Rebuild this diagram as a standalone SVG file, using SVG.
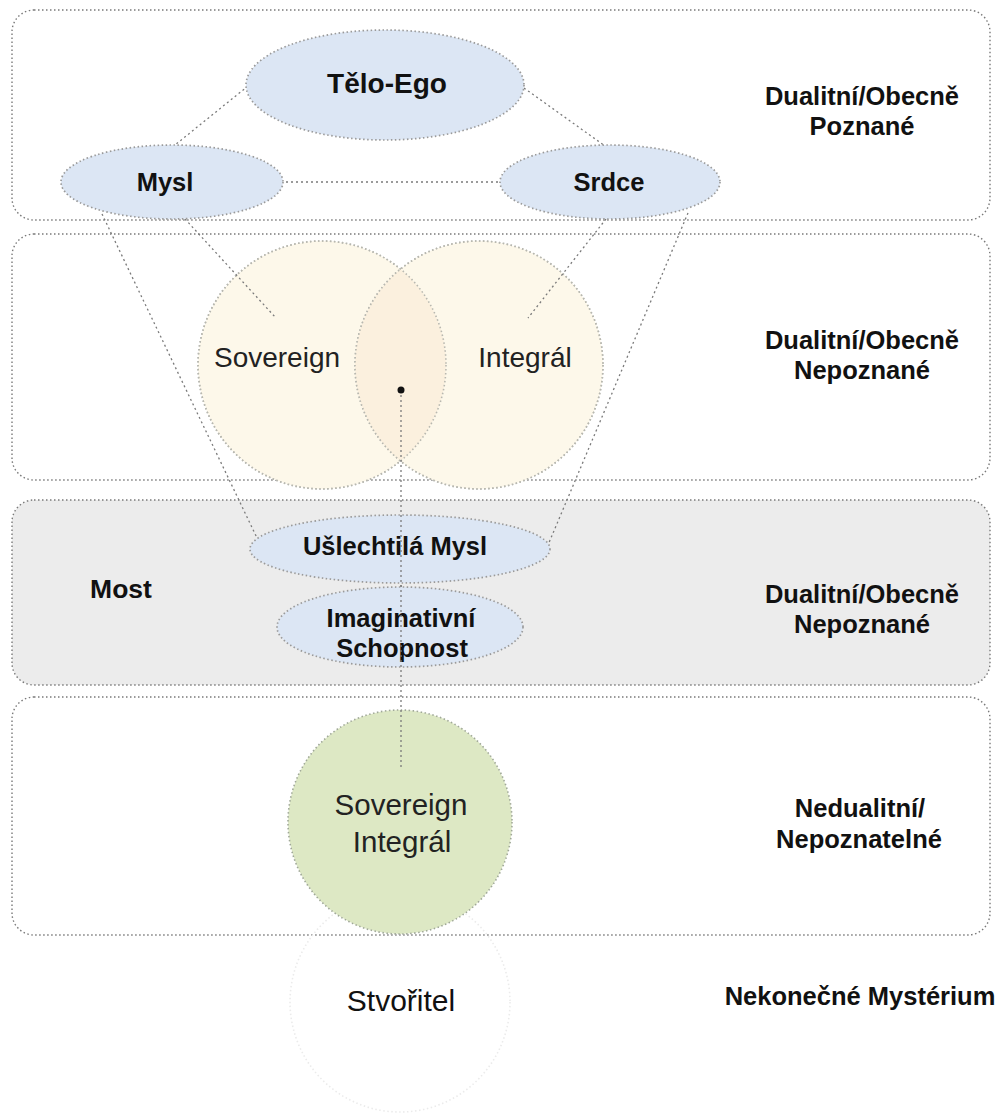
<svg xmlns="http://www.w3.org/2000/svg" width="1000" height="1115" viewBox="0 0 1000 1115">
<defs>
<style>
.panel{fill:#ffffff;stroke:#7a7a7a;stroke-width:1.4;stroke-dasharray:1.5 2.5}
.panel.gray{fill:#ececec}
.blue{fill:#dce6f4;stroke:#9a9a9a;stroke-width:1.7;stroke-dasharray:1.5 2.5}
.cream{fill:#fdf8ea;stroke:#b8b8b0;stroke-width:1.6;stroke-dasharray:1.5 2.5}
.green{fill:#dde8c4;stroke:#a0a898;stroke-width:1.6;stroke-dasharray:1.5 2.5}
.faint{fill:none;stroke:#ebebeb;stroke-width:1.6;stroke-dasharray:1.5 2.5}
.con{fill:none;stroke:#7a7a7a;stroke-width:1.3;stroke-dasharray:2 3}
.b{font-family:"Liberation Sans",Arial,sans-serif;font-weight:bold;font-size:25.5px;fill:#111;text-anchor:middle}
.r{font-family:"Liberation Sans",Arial,sans-serif;font-size:28px;fill:#222;text-anchor:middle}
</style>
<clipPath id="clipSov"><circle cx="322" cy="365" r="124"/></clipPath>
</defs>

<g id="panel-known"><rect class="panel" x="12" y="10" width="978" height="210" rx="22"/></g>
<g id="panel-unknown"><rect class="panel" x="12" y="234" width="978" height="246" rx="22"/></g>
<g id="panel-bridge"><rect class="panel gray" x="12" y="500" width="978" height="185" rx="22"/></g>
<g id="panel-nondual"><rect class="panel" x="12" y="697" width="978" height="238" rx="22"/></g>

<g id="node-stvoritel">
<circle class="faint" cx="400" cy="1002" r="110"/>
<text class="r" x="401" y="1011" style="font-size:30px;fill:#111">Stvořitel</text>
</g>

<g id="node-sovereign">
<circle class="cream" cx="322" cy="365" r="124"/>
</g>
<g id="node-integral">
<circle class="cream" cx="479" cy="365" r="124"/>
<circle cx="479" cy="365" r="124" fill="#fbf0de" clip-path="url(#clipSov)"/>
<circle cx="322" cy="365" r="124" fill="none" stroke="#b8b8b0" stroke-width="1.6" stroke-dasharray="1.5 2.5"/>
<circle cx="479" cy="365" r="124" fill="none" stroke="#b8b8b0" stroke-width="1.6" stroke-dasharray="1.5 2.5"/>
<text class="r" x="277" y="367">Sovereign</text>
<text class="r" x="525" y="367">Integrál</text>
</g>

<g id="node-sovereign-integral">
<circle class="green" cx="400" cy="822" r="112"/>
<text class="r" x="401" y="815" style="font-size:29.5px">Sovereign</text>
<text class="r" x="402" y="852" style="font-size:29.5px">Integrál</text>
</g>

<g id="connectors">
<line class="con" x1="248" y1="86" x2="175" y2="145"/>
<line class="con" x1="524" y1="88" x2="605" y2="146"/>
<line class="con" x1="286" y1="182" x2="500" y2="182"/>
<line class="con" x1="102" y1="214" x2="258" y2="540"/>
<line class="con" x1="185" y1="219" x2="276" y2="318"/>
<line class="con" x1="606" y1="219" x2="528" y2="318"/>
<line class="con" x1="688" y1="213" x2="548" y2="545"/>
<line class="con" x1="401" y1="390" x2="401" y2="770"/>
<circle cx="401" cy="390" r="3.5" fill="#111"/>
</g>

<g id="node-telo-ego">
<ellipse class="blue" cx="385" cy="85" rx="139" ry="55"/>
<text class="b" x="387" y="93" style="font-size:28px">Tělo-Ego</text>
</g>
<g id="node-mysl">
<ellipse class="blue" cx="172" cy="182" rx="111" ry="37"/>
<text class="b" x="165" y="191">Mysl</text>
</g>
<g id="node-srdce">
<ellipse class="blue" cx="610" cy="182" rx="110" ry="37"/>
<text class="b" x="609" y="191">Srdce</text>
</g>
<g id="node-uslechtila">
<ellipse class="blue" cx="400" cy="549" rx="150" ry="34"/>
<text class="b" x="395" y="555">Ušlechtilá Mysl</text>
</g>
<g id="node-imaginativni">
<ellipse class="blue" cx="400" cy="627" rx="123" ry="40"/>
<text class="b" x="401" y="627">Imaginativní</text>
<text class="b" x="402" y="657">Schopnost</text>
</g>
<line class="con" x1="401" y1="515" x2="401" y2="667"/>

<g id="labels">
<text class="b" x="862" y="105">Dualitní/Obecně</text>
<text class="b" x="862" y="135">Poznané</text>
<text class="b" x="862" y="349">Dualitní/Obecně</text>
<text class="b" x="862" y="379">Nepoznané</text>
<text class="b" x="862" y="603">Dualitní/Obecně</text>
<text class="b" x="862" y="633">Nepoznané</text>
<text class="b" x="121" y="598" style="font-size:26.5px">Most</text>
<text class="b" x="860" y="817">Nedualitní/</text>
<text class="b" x="859" y="848">Nepoznatelné</text>
<text class="b" x="860" y="1005">Nekonečné Mystérium</text>
</g>
</svg>
